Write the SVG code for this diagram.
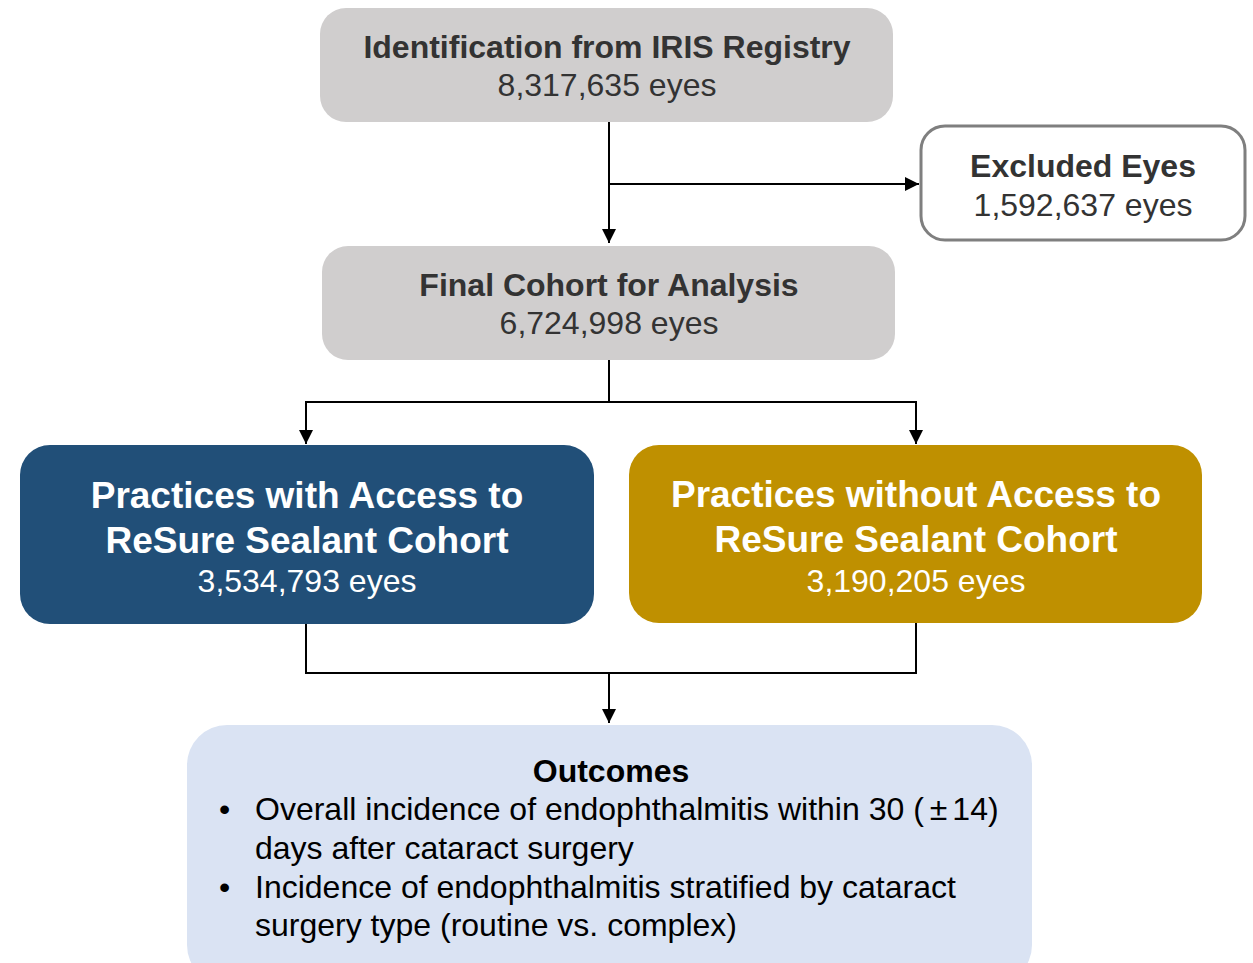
<svg xmlns="http://www.w3.org/2000/svg" width="1253" height="963" viewBox="0 0 1253 963">
  <defs>
    <marker id="arrow" viewBox="0 0 10 10" refX="10" refY="5" markerWidth="14" markerHeight="14" markerUnits="userSpaceOnUse" orient="auto">
      <path d="M0,0 L10,5 L0,10 Z" fill="#000"/>
    </marker>
  </defs>
  <style>
    text { font-family: "Liberation Sans", Arial, sans-serif; }
    .gray { fill: #d0cece; }
    .head { font-size: 32px; font-weight: bold; fill: #333333; text-anchor: middle; }
    .count { font-size: 32px; fill: #333333; text-anchor: middle; }
    .whead { font-size: 37px; font-weight: bold; fill: #ffffff; text-anchor: middle; }
    .wcount { font-size: 32px; fill: #ffffff; text-anchor: middle; }
    .body { font-size: 32px; fill: #000000; }
    .link { fill: none; stroke: #000; stroke-width: 2; }
  </style>
  <rect width="1253" height="963" fill="#ffffff"/>

  <g id="connectors">
    <path class="link" d="M609,122 V243" marker-end="url(#arrow)"/>
    <path class="link" d="M609,184 H919" marker-end="url(#arrow)"/>
    <path class="link" d="M609,360 V402 H306 V444" marker-end="url(#arrow)"/>
    <path class="link" d="M609,402 H916 V444" marker-end="url(#arrow)"/>
    <path class="link" d="M306,624 V673 H916 V623"/>
    <path class="link" d="M609,673 V723" marker-end="url(#arrow)"/>
  </g>

  <g id="identification">
    <rect class="gray" x="320" y="8" width="573" height="114" rx="26"/>
    <text class="head" x="607" y="58">Identification from IRIS Registry</text>
    <text class="count" x="607" y="96">8,317,635 eyes</text>
  </g>

  <g id="excluded">
    <rect x="921" y="126" width="324" height="114" rx="24" fill="#ffffff" stroke="#7f7f7f" stroke-width="3"/>
    <text class="head" x="1083" y="177">Excluded Eyes</text>
    <text class="count" x="1083" y="216">1,592,637 eyes</text>
  </g>

  <g id="final-cohort">
    <rect class="gray" x="322" y="246" width="573" height="114" rx="26"/>
    <text class="head" x="609" y="296">Final Cohort for Analysis</text>
    <text class="count" x="609" y="334">6,724,998 eyes</text>
  </g>

  <g id="with-access">
    <rect x="20" y="445" width="574" height="179" rx="30" fill="#214f78"/>
    <text class="whead" x="307" y="508">Practices with Access to</text>
    <text class="whead" x="307" y="553">ReSure Sealant Cohort</text>
    <text class="wcount" x="307" y="592">3,534,793 eyes</text>
  </g>

  <g id="without-access">
    <rect x="629" y="445" width="573" height="178" rx="30" fill="#bf9000"/>
    <text class="whead" x="916" y="507">Practices without Access to</text>
    <text class="whead" x="916" y="552">ReSure Sealant Cohort</text>
    <text class="wcount" x="916" y="592">3,190,205 eyes</text>
  </g>

  <g id="outcomes">
    <rect x="187" y="725" width="845" height="260" rx="40" fill="#dae3f3"/>
    <text class="body" x="611" y="782" font-weight="bold" text-anchor="middle">Outcomes</text>
    <text class="body" x="219" y="820">•</text>
    <text class="body" x="255" y="820">Overall incidence of endophthalmitis within 30 (<tspan dx="6">±</tspan><tspan dx="5">14)</tspan></text>
    <text class="body" x="255" y="859">days after cataract surgery</text>
    <text class="body" x="219" y="898">•</text>
    <text class="body" x="255" y="898">Incidence of endophthalmitis stratified by cataract</text>
    <text class="body" x="255" y="936">surgery type (routine vs. complex)</text>
  </g>
</svg>
